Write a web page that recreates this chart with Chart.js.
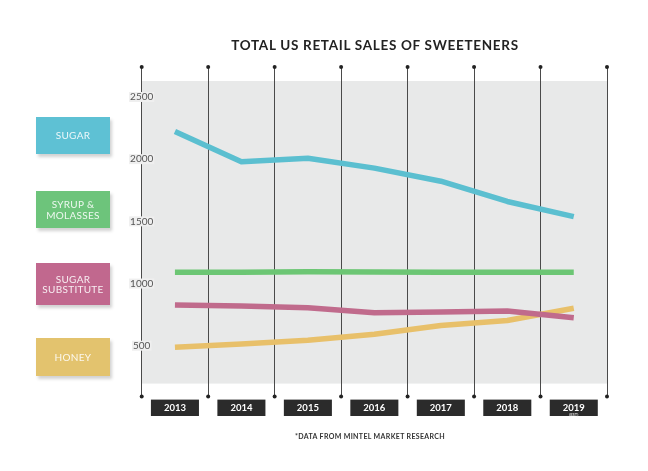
<!DOCTYPE html>
<html>
<head>
<meta charset="utf-8">
<script src="https://cdn.jsdelivr.net/npm/chart.js@4"></script>
<style>
  html, body { margin: 0; padding: 0; background: #fff; }
  #wrap { position: relative; width: 648px; height: 471px; overflow: hidden; font-family: Lato, "Open Sans", sans-serif; }
  canvas { position: absolute; left: 0; top: 0; }
  .title { position: absolute; left: 150px; width: 450px; top: 37px; text-align: center; font-size: 13.5px; font-weight: bold; color: #222; letter-spacing: 0.7px; }
  .note { position: absolute; left: 250px; width: 240px; top: 432px; text-align: center; font-size: 7px; font-weight: bold; color: #333; letter-spacing: 0.35px; }
  .key { position: absolute; left: 36px; width: 74px; display: flex; align-items: center; justify-content: center; text-align: center; color: rgba(255,255,255,0.88); font-size: 10px; line-height: 10.5px; letter-spacing: 0.3px; box-shadow: 2px 3px 3px rgba(0,0,0,0.18); }
</style>
</head>
<body>
<div id="wrap">
  <canvas id="c" width="648" height="471"></canvas>
  <div class="title">TOTAL US RETAIL SALES OF SWEETENERS</div>
  <div class="note">*DATA FROM MINTEL MARKET RESEARCH</div>
  <div class="key" style="top:117px;height:37px;background:#5ec1d4;">SUGAR</div>
  <div class="key" style="top:191px;height:37px;background:#6dc47b;">SYRUP &amp;<br>MOLASSES</div>
  <div class="key" style="top:263px;height:42px;background:#c1688e;">SUGAR<br>SUBSTITUTE</div>
  <div class="key" style="top:338px;height:38px;background:#e3c36e;">HONEY</div>
</div>
<script>
const years = ['2013', '2014', '2015', '2016', '2017', '2018', '2019'];
const yTickValues = [500, 1000, 1500, 2000, 2500];
const sugar = [2223, 1980, 2007, 1928, 1823, 1660, 1538];
const syrupMolasses = [1091, 1091, 1095, 1093, 1091, 1091, 1091];
const sugarSubstitute = [828, 820, 806, 766, 772, 780, 725];
const honey = [487, 514, 544, 592, 663, 703, 801];

const decor = {
  id: 'decor',
  beforeDraw(chart) {
    const {ctx, chartArea: a} = chart;
    ctx.save();
    ctx.fillStyle = '#e8e9e9';
    ctx.fillRect(a.left, a.top + 14, a.right - a.left, a.bottom - a.top - 27);
    ctx.restore();
  },
  afterDraw(chart) {
    const {ctx, chartArea: a, scales: {x, y}} = chart;
    ctx.save();
    ctx.fillStyle = '#222';
    const step = (x.getPixelForValue(1) - x.getPixelForValue(0));
    for (let i = 0; i <= years.length; i++) {
      const px = x.getPixelForValue(0) - step / 2 + i * step;
      [a.top, a.bottom].forEach(py => {
        ctx.beginPath(); ctx.arc(px, py, 2, 0, Math.PI * 2); ctx.fill();
      });
    }
    ctx.font = '10px Lato, sans-serif';
    ctx.textAlign = 'center';
    ctx.textBaseline = 'middle';
    yTickValues.forEach(v => {
      const py = y.getPixelForValue(v);
      const w = ctx.measureText(String(v)).width;
      ctx.fillStyle = '#efefef';
      ctx.fillRect(a.left - w / 2 - 1, py - 5, w + 2, 10);
      ctx.fillStyle = '#555';
      ctx.fillText(String(v), a.left, py);
    });
    ctx.font = 'bold 4px Lato, sans-serif';
    ctx.fillStyle = '#ddd';
    ctx.fillText('(EST)', x.getPixelForValue(6), a.bottom + 18.5);
    ctx.restore();
  }
};

new Chart(document.getElementById('c'), {
  type: 'line',
  data: {
    labels: years,
    datasets: [
      { label: 'Sugar', data: sugar, borderColor: '#5bbfd0' },
      { label: 'Syrup & Molasses', data: syrupMolasses, borderColor: '#6cc674' },
      { label: 'Sugar Substitute', data: sugarSubstitute, borderColor: '#c06b8c' },
      { label: 'Honey', data: honey, borderColor: '#e8c06a' }
    ].map(d => Object.assign(d, { borderWidth: 5.5, pointRadius: 0, tension: 0, fill: false, borderCapStyle: 'butt', borderJoinStyle: 'round' }))
  },
  options: {
    responsive: false,
    animation: false,
    events: [],
    layout: { padding: { left: 141.7, right: 41, top: 67, bottom: 51 } },
    plugins: { legend: { display: false }, tooltip: { enabled: false } },
    scales: {
      x: {
        offset: true,
        grid: { offset: true, color: '#4a4a4a', lineWidth: 1, drawTicks: false },
        border: { display: false },
        ticks: {
          padding: 6,
          color: '#ffffff',
          font: { family: 'Lato, sans-serif', size: 9.5, weight: 'bold' },
          showLabelBackdrop: true,
          backdropColor: '#2b2b2b',
          backdropPadding: { top: 3, bottom: 2, left: 13, right: 13 }
        }
      },
      y: {
        display: false,
        min: 91,
        max: 2741
      }
    }
  },
  plugins: [decor]
});
</script>
</body>
</html>
